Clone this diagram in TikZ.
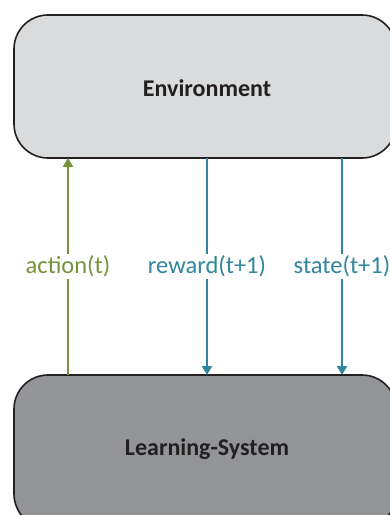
\documentclass[tikz,border=0pt]{standalone}
\usepackage{fontspec}
\setmainfont{Carlito}
\usetikzlibrary{arrows.meta}
\definecolor{envfill}{RGB}{218,219,221}
\definecolor{lsfill}{RGB}{147,148,151}
\definecolor{actgreen}{RGB}{118,146,60}
\definecolor{teal}{RGB}{49,133,156}
\definecolor{txt}{RGB}{35,31,32}
\begin{document}
\begin{tikzpicture}[x=1pt,y=-1pt,
  box/.style={draw=txt,line width=1.6pt,rounded corners=34pt},
  title/.style={text=txt,font=\bfseries\fontsize{24}{28}\selectfont},
  flow/.style={line width=2pt,-{Triangle[length=9pt,width=10pt]}},
  lbl/.style={fill=white,inner sep=2pt,font=\fontsize{24.5}{28}\selectfont}]
\useasboundingbox (0,0) rectangle (390,515);
\clip (0,0) rectangle (390,515);
\fill[white] (0,0) rectangle (390,515);
\draw[box,fill=envfill] (14,15) rectangle (396,158);
\node[title] (env) at (207,88) {Environment};
\draw[box,fill=lsfill] (14,375) rectangle (396,528);
\node[title] (ls) at (207,449) {Learning-System};
\coordinate (a0) at (68,375);
\coordinate (a1) at (68,158);
\coordinate (r0) at (207,158);
\coordinate (r1) at (207,375);
\coordinate (s0) at (342,158);
\coordinate (s1) at (342,375);
\draw[flow,actgreen] (a0) -- (a1) node[lbl,pos=0.5,text=actgreen] (la) {action(t)};
\draw[flow,teal] (r0) -- (r1) node[lbl,pos=0.5,text=teal] (lr) {reward(t+1)};
\draw[flow,teal] (s0) -- (s1) node[lbl,pos=0.5,text=teal] (lsn) {state(t+1)};
\end{tikzpicture}
\end{document}
